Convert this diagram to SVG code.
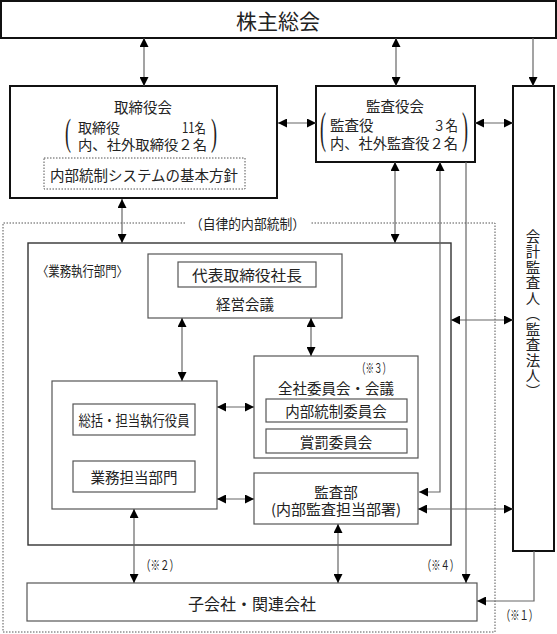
<svg xmlns="http://www.w3.org/2000/svg" width="557" height="634" viewBox="0 0 557 634">
<defs>
<style>
text{font-family:"Noto Sans CJK JP","Liberation Serif",sans-serif;fill:#222;dominant-baseline:central}
.t{font-size:14.5px}
.c{text-anchor:middle}
.s{font-size:13.5px}
.thick{fill:#fff;stroke:#111;stroke-width:2}
.box{fill:#fff;stroke:#555;stroke-width:1.2}
.outer{fill:none;stroke:#333;stroke-width:1.4}
.dot{fill:none;stroke:#555;stroke-width:1;stroke-dasharray:1.5 1.5}
text.par{font-family:"Liberation Serif",serif;font-size:18px;fill:#222;dominant-baseline:alphabetic;text-anchor:middle}
#connectors path{fill:none;stroke:#666;stroke-width:1.2}
.d{marker-start:url(#ah);marker-end:url(#ah)}
.e{marker-end:url(#ah)}
</style>
<marker id="ah" viewBox="0 0 10 10" refX="10" refY="5" markerWidth="9" markerHeight="9" markerUnits="userSpaceOnUse" orient="auto-start-reverse">
<path d="M0,0 L10,5 L0,10 z" fill="#000"/>
</marker>
</defs>
<rect width="557" height="634" fill="#fff"/>

<g id="jiritsu">
<path class="dot" d="M185,223 H3 V632 H495 V223 H310"/>
<text class="s" x="190" y="223" textLength="115" lengthAdjust="spacingAndGlyphs">（自律的内部統制）</text>
</g>

<g id="kabunushi">
<rect class="thick" x="1" y="1" width="555" height="37"/>
<text class="c" x="278" y="20" font-size="21">株主総会</text>
</g>

<g id="torishimariyakukai">
<rect class="thick" x="10" y="86" width="267" height="112"/>
<text class="t c" x="143" y="106">取締役会</text>
<text class="par" transform="translate(68,144.5) scale(1,2.05)">(</text>
<text class="par" transform="translate(214,144.5) scale(1,2.05)">)</text>
<text font-size="14"><tspan x="78" y="127">取締役</tspan><tspan x="182" y="127" textLength="24" lengthAdjust="spacingAndGlyphs">11名</tspan><tspan x="78" y="143.5" textLength="129" lengthAdjust="spacingAndGlyphs">内、社外取締役２名</tspan></text>
<rect class="dot" x="44" y="158" width="201" height="31"/>
<text class="t" x="50" y="174" textLength="188" lengthAdjust="spacingAndGlyphs">内部統制システムの基本方針</text>
</g>

<g id="kansayakukai">
<rect class="thick" x="316" y="86" width="159" height="76"/>
<text class="t c" x="395" y="105">監査役会</text>
<text class="par" transform="translate(323,143.3) scale(1,2.42)">(</text>
<text class="par" transform="translate(465,143.3) scale(1,2.42)">)</text>
<text class="t"><tspan x="330" y="123.5">監査役</tspan><tspan x="433" y="123.5" textLength="25" lengthAdjust="spacingAndGlyphs">３名</tspan><tspan x="330" y="142" textLength="128" lengthAdjust="spacingAndGlyphs">内、社外監査役２名</tspan></text>
</g>

<g id="kaikeikansanin">
<rect class="thick" x="513" y="86" width="41" height="465"/>
<text class="t c" x="533" y="314" style="writing-mode:vertical-rl;letter-spacing:1px">会計監査人（監査法人）</text>
</g>

<g id="gyomushikko">
<rect class="outer" x="28" y="243" width="423" height="302"/>
<text class="s" x="37" y="270" textLength="91" lengthAdjust="spacingAndGlyphs">〈業務執行部門〉</text>
</g>

<g id="keieikaigi">
<rect class="box" x="148" y="254" width="194" height="64"/>
<rect class="box" x="178" y="262" width="138" height="25"/>
<text class="t c" x="247" y="274" textLength="110" lengthAdjust="spacingAndGlyphs">代表取締役社長</text>
<text class="t c" x="245" y="303">経営会議</text>
</g>

<g id="tantou">
<rect class="box" x="52" y="381" width="165" height="128"/>
<rect class="box" x="73" y="404" width="122" height="31"/>
<text class="t c" x="134" y="419" textLength="111" lengthAdjust="spacingAndGlyphs">総括・担当執行役員</text>
<rect class="box" x="73" y="461" width="122" height="31"/>
<text class="t c" x="134" y="476">業務担当部門</text>
</g>

<g id="zenshaiinkai">
<rect class="box" x="254" y="356" width="164" height="102"/>
<text class="s" x="357" y="367" textLength="34" lengthAdjust="spacingAndGlyphs">（※３）</text>
<text class="t c" x="336" y="387">全社委員会・会議</text>
<rect class="box" x="266" y="399" width="141" height="23"/>
<text class="t c" x="336" y="410">内部統制委員会</text>
<rect class="box" x="266" y="429" width="141" height="24"/>
<text class="t c" x="336" y="441">賞罰委員会</text>
</g>

<g id="kansabu">
<rect class="box" x="254" y="473" width="164" height="51"/>
<text class="t c"><tspan x="336" y="491">監査部</tspan><tspan x="336" y="508" textLength="130" lengthAdjust="spacingAndGlyphs">(内部監査担当部署)</tspan></text>
</g>

<g id="kogaisha">
<rect class="box" x="27" y="583" width="450" height="38"/>
<text class="c" x="252" y="603" font-size="16">子会社・関連会社</text>
</g>

<g id="connectors">
<path class="d" d="M144,38 V86"/>
<path class="d" d="M396,38 V86"/>
<path class="e" d="M533,38 V86"/>
<path class="d" d="M278,123 H316"/>
<path class="d" d="M475,123 H513"/>
<path class="d" d="M122,199 V243"/>
<path class="d" d="M395,162 V243"/>
<path class="d" d="M440,162 V492 H419"/>
<path class="e" d="M466,162 V583"/>
<path class="d" d="M451,320 H513"/>
<path class="d" d="M182,318 V381"/>
<path class="d" d="M311,318 V356"/>
<path class="d" d="M217,407 H254"/>
<path class="d" d="M217,499 H254"/>
<path class="d" d="M418,509 H513"/>
<path class="d" d="M134,509 V583"/>
<path class="d" d="M338,524 V583"/>
<path class="e" d="M534,551 V601 H477"/>
</g>

<g id="notes">
<text class="s" x="141" y="564" textLength="38" lengthAdjust="spacingAndGlyphs">（※２）</text>
<text class="s" x="422" y="564" textLength="37" lengthAdjust="spacingAndGlyphs">（※４）</text>
<text class="s" x="501" y="614" textLength="37" lengthAdjust="spacingAndGlyphs">（※１）</text>
</g>
</svg>
